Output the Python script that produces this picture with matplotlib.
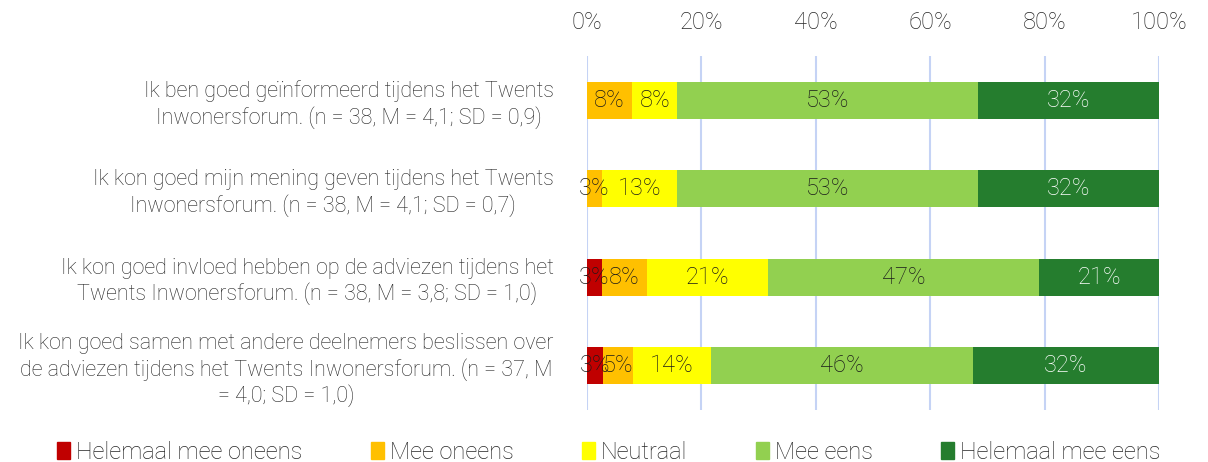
import numpy as np
import matplotlib.pyplot as plt
from matplotlib.patches import Patch

plt.rcParams['font.family'] = ['Roboto', 'DejaVu Sans']
plt.rcParams['font.weight'] = 'light'

categories = [
    "Ik ben goed geïnformeerd tijdens het Twents\nInwonersforum. (n = 38, M = 4,1; SD = 0,9)",
    "Ik kon goed mijn mening geven tijdens het Twents\nInwonersforum. (n = 38, M = 4,1; SD = 0,7)",
    "Ik kon goed invloed hebben op de adviezen tijdens het\nTwents Inwonersforum. (n = 38, M = 3,8; SD = 1,0)",
    "Ik kon goed samen met andere deelnemers beslissen over\nde adviezen tijdens het Twents Inwonersforum. (n = 37, M\n= 4,0; SD = 1,0)",
]
series_names = ["Helemaal mee oneens", "Mee oneens", "Neutraal", "Mee eens", "Helemaal mee eens"]
helemaal_oneens = [0, 0, 2.6, 2.7]
oneens = [7.9, 2.6, 7.9, 5.4]
neutraal = [7.9, 13.2, 21.1, 13.5]
eens = [52.6, 52.6, 47.4, 45.9]
helemaal_eens = [31.6, 31.6, 21.1, 32.4]
xticks = [0, 20, 40, 60, 80, 100]

colors = ['#C00000', '#FFC000', '#FFFF00', '#92D050', '#257D2E']
text_colors = ['#1A1A1A', '#1A1A1A', '#1A1A1A', '#1A1A1A', '#FFFFFF']
series = [helemaal_oneens, oneens, neutraal, eens, helemaal_eens]

fig = plt.figure(figsize=(12.08, 4.62), dpi=100)
ax = fig.add_axes([0.486, 0.1126, 0.4735, 0.7662])

y = np.arange(len(categories))
left = np.zeros(len(categories))
for vals, col, tcol in zip(series, colors, text_colors):
    vals = np.array(vals, dtype=float)
    ax.barh(y, vals, left=left, height=0.42, color=col, zorder=3)
    for yi, v, l in zip(y, vals, left):
        if v > 0:
            ax.text(l + v / 2, yi, f"{round(v):.0f}%", ha='center', va='center',
                    fontsize=17, color=tcol, zorder=4)
    left += vals

ax.set_xlim(0, 100)
ax.set_ylim(3.5, -0.5)
ax.set_xticks(xticks)
ax.set_xticklabels([f"{t}%" for t in xticks], fontsize=17, color='#262626')
ax.xaxis.tick_top()
ax.tick_params(axis='x', length=0, pad=16)
ax.set_yticks(y)
ax.set_yticklabels(categories, fontsize=15.5, color='#262626', multialignment='center')
ax.tick_params(axis='y', length=0, pad=24)
ax.grid(axis='x', color='#C5D3F5', linewidth=1.5, zorder=0)
for s in ax.spines.values():
    s.set_visible(False)

handles = [Patch(color=c) for c in colors]
fig.legend(handles, series_names, loc='lower center', bbox_to_anchor=(0.504, -0.05), ncol=5,
           frameon=False, fontsize=17, handlelength=0.55, handleheight=0.75,
           handletextpad=0.25, columnspacing=2.9, labelcolor='#262626')

fig.savefig('out.png', dpi=100)
